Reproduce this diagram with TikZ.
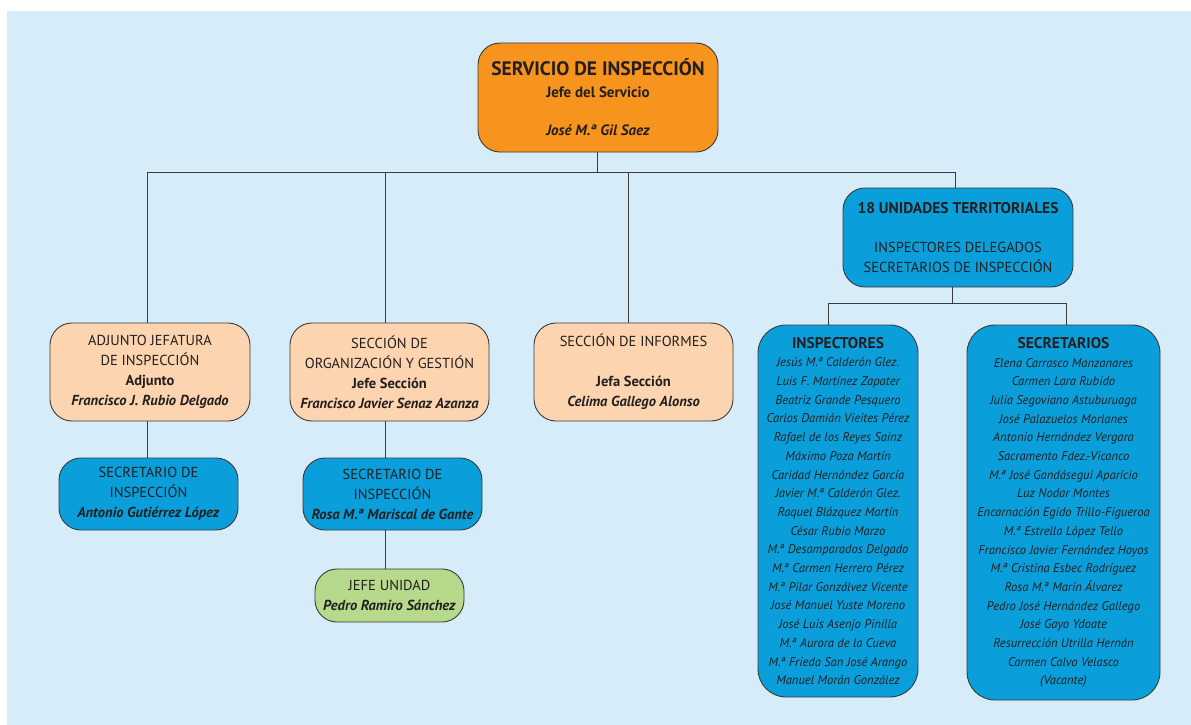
\documentclass[tikz,border=0pt]{standalone}
\usepackage{fontspec}
\setmainfont{PT Sans}
\definecolor{bgc}{HTML}{D6ECF9}
\definecolor{orangec}{HTML}{F7941E}
\definecolor{peachc}{HTML}{FCD4AF}
\definecolor{bluec}{HTML}{0A9FDA}
\definecolor{greenc}{HTML}{B6D98B}
\definecolor{linec}{HTML}{3B3B3B}
\definecolor{textc}{HTML}{231F20}
\begin{document}
\begin{tikzpicture}[x=1pt,y=-1pt,
  box/.style={draw=linec, line width=0.9pt, rounded corners=22pt, inner sep=0pt, align=center, text=textc},
  conn/.style={draw=linec, line width=0.9pt},
  lvl/.style={font=\fontsize{14.5}{20}\selectfont},
  lst/.style={font=\fontsize{12.6}{18.7}\selectfont\itshape}]
\useasboundingbox (0,0) rectangle (1191,725);
\fill[bgc] (7,11) rectangle (1191,725);

% top
\node[box, fill=orangec, minimum width=240pt, minimum height=109pt, font=\fontsize{15}{19}\selectfont\bfseries] (top) at (598,97.5)
 {{\fontsize{19.5}{22}\selectfont SERVICIO DE INSPECCIÓN}\\[3pt]Jefe del Servicio\\[19pt]\itshape José M.ª Gil Saez};

% level 2
\node[box, lvl, fill=peachc, minimum width=200pt, minimum height=98pt] (adj) at (150,372)
 {ADJUNTO JEFATURA\\DE INSPECCIÓN\\\textbf{Adjunto}\\\textbf{\itshape Francisco J. Rubio Delgado}};
\node[box, lvl, fill=peachc, minimum width=199pt, minimum height=98pt] (org) at (389.5,372)
 {SECCIÓN DE\\ORGANIZACIÓN Y GESTIÓN\\\textbf{Jefe Sección}\\\textbf{\itshape Francisco Javier Senaz Azanza}};
\node[box, lvl, fill=peachc, minimum width=199pt, minimum height=98pt] (inf) at (633.5,372)
 {SECCIÓN DE INFORMES\\[20pt]\textbf{Jefa Sección}\\\textbf{\itshape Celima Gallego Alonso}};
\node[box, lvl, fill=bluec, minimum width=230pt, minimum height=99pt] (uni) at (958,237.5)
 {\textbf{\fontsize{15.5}{20}\selectfont 18 UNIDADES TERRITORIALES}\\[19pt]INSPECTORES DELEGADOS\\SECRETARIOS DE INSPECCIÓN};

% level 3
\node[box, lvl, fill=bluec, minimum width=179pt, minimum height=72pt] (sec1) at (148.5,494)
 {SECRETARIO DE\\INSPECCIÓN\\\textbf{\itshape Antonio Gutiérrez López}};
\node[box, lvl, fill=bluec, minimum width=179pt, minimum height=72pt] (sec2) at (392.5,494)
 {SECRETARIO DE\\INSPECCIÓN\\\textbf{\itshape Rosa M.ª Mariscal de Gante}};
\node[box, lvl, fill=greenc, minimum width=149pt, minimum height=53pt] (jefe) at (389.5,595.5)
 {JEFE UNIDAD\\\textbf{\itshape Pedro Ramiro Sánchez}};

% lists
\node[box, lst, fill=bluec, minimum width=160pt, minimum height=372pt, rounded corners=28pt] (insp) at (838,511)
 {\textbf{\upshape\fontsize{15.5}{18.7}\selectfont INSPECTORES}\\
  Jesús M.ª Calderón Glez.\\Luis F. Martínez Zapater\\Beatriz Grande Pesquero\\Carlos Damián Vieites Pérez\\
  Rafael de los Reyes Sainz\\Máximo Poza Martín\\Caridad Hernández García\\Javier M.ª Calderón Glez.\\
  Raquel Blázquez Martín\\César Rubio Marzo\\M.ª Desamparados Delgado\\M.ª Carmen Herrero Pérez\\
  M.ª Pilar Gonzálvez Vicente\\José Manuel Yuste Moreno\\José Luis Asenjo Pinilla\\M.ª Aurora de la Cueva\\
  M.ª Frieda San José Arango\\Manuel Morán González};
\node[box, lst, fill=bluec, minimum width=193pt, minimum height=375pt, rounded corners=28pt] (secr) at (1063.5,512.5)
 {\textbf{\upshape\fontsize{15.5}{18.7}\selectfont SECRETARIOS}\\
  Elena Carrasco Manzanares\\Carmen Lara Rubido\\Julia Segoviano Astuburuaga\\José Palazuelos Morlanes\\
  Antonio Hernández Vergara\\Sacramento Fdez.-Vicanco\\M.ª José Gandásegui Aparicio\\Luz Nodar Montes\\
  Encarnación Egido Trillo-Figueroa\\M.ª Estrella López Tello\\Francisco Javier Fernández Hoyos\\M.ª Cristina Esbec Rodríguez\\
  Rosa M.ª Marín Álvarez\\Pedro José Hernández Gallego\\José Gayo Ydoate\\Resurrección Utrilla Hernán\\
  Carmen Calvo Velasco\\(Vacante)};

% connectors
\coordinate (t0) at (597,172);
\coordinate (b1) at (147,172);
\coordinate (b2) at (385,172);
\coordinate (b3) at (628,172);
\coordinate (b4) at (955,172);
\coordinate (u0) at (952,303);
\coordinate (u1) at (828,303);
\coordinate (u2) at (1066,303);
\draw[conn] (top.south -| t0) -- (t0);
\draw[conn] (b1) -- (b4);
\draw[conn] (b1) -- (b1 |- adj.north);
\draw[conn] (b2) -- (b2 |- org.north);
\draw[conn] (b3) -- (b3 |- inf.north);
\draw[conn] (b4) -- (b4 |- uni.north);
\draw[conn] (uni.south -| u0) -- (u0);
\draw[conn] (u1) -- (u2);
\draw[conn] (u1) -- (u1 |- insp.north);
\draw[conn] (u2) -- (u2 |- secr.north);
\draw[conn] (adj.south -| b1) -- (b1 |- sec1.north);
\draw[conn] (org.south -| b2) -- (b2 |- sec2.north);
\draw[conn] (sec2.south -| b2) -- (b2 |- jefe.north);
\end{tikzpicture}
\end{document}
